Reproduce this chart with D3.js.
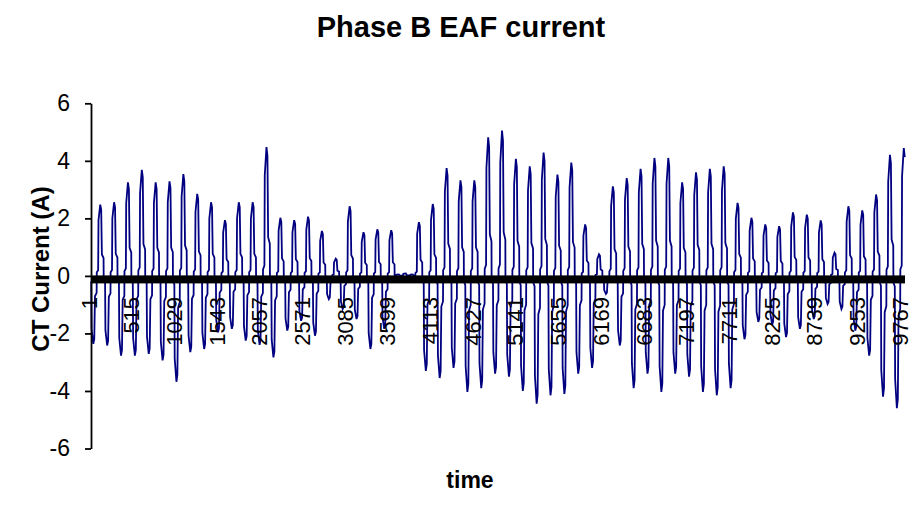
<!DOCTYPE html>
<html>
<head>
<meta charset="utf-8">
<script src="https://cdn.jsdelivr.net/npm/d3@7"></script>
<style>
  body { margin: 0; background: #fff; }
  text { font-family: "Liberation Sans", Arial, sans-serif; fill: #000; }
  .axis path, .axis line { stroke: #000; stroke-width: 1.8; }
</style>
</head>
<body>
<script>
// number of samples on the category axis
var nSamples = 9800;
var labelStep = 514;

// positive peak of each cycle (A)
var posPeaks = [2.48, 2.56, 3.25, 3.69, 3.25, 3.29, 3.54, 2.85, 2.56, 1.94,
                2.56, 2.56, 4.48, 2.02, 1.94, 2.06, 1.56, 0.60, 2.42, 1.52,
                1.62, 1.59, 0.09, 1.87, 2.50, 3.75, 3.32, 3.32, 4.82, 5.05,
                4.07, 3.81, 4.29, 3.52, 3.94, 1.79, 0.75, 3.11, 3.40, 3.72,
                4.10, 4.10, 3.25, 3.60, 3.72, 3.81, 2.54, 2.02, 1.79, 1.73,
                2.21, 2.13, 1.93, 0.81, 2.42, 2.28, 2.83, 4.21, 4.44];

// trough before each positive peak (A)
var negPeaks = [-2.36, -2.42, -2.77, -2.77, -2.71, -2.94, -3.68, -2.65, -2.54, -1.96,
                -1.84, -2.25, -2.40, -2.83, -1.90, -1.56, -2.08, -0.81, -1.15, -1.50,
                -2.54, -1.84, 0.05, 0.05, -3.30, -3.55, -3.20, -4.03, -3.90, -3.40,
                -3.50, -4.00, -4.44, -4.15, -4.10, -3.40, -3.20, -0.63, -2.42, -3.90,
                -3.40, -4.03, -3.40, -3.50, -4.03, -4.15, -3.90, -2.20, -1.60, -1.70,
                -2.13, -1.84, -1.50, -0.98, -1.15, -1.90, -2.77, -4.20, -4.60];

// shape of one half cycle (fraction of half cycle, fraction of its peak)
var shapePhase = [0.00, 0.20, 0.25, 0.50, 0.64, 0.74, 0.98];
var shapeLevel = [0.05, 0.08, 0.78, 1.00, 0.93, 0.30, 0.25];

var halfLen = 83.4,      // samples per half cycle
    firstStart = -13.5;  // sample where the first half cycle begins

var yTicks = [-6, -4, -2, 0, 2, 4, 6];

// build the polyline vertices
var points = [];
for (var k = 0; k < posPeaks.length * 2; k++) {
  var amp = (k % 2 == 0) ? negPeaks[k / 2] : posPeaks[(k - 1) / 2];
  var start = firstStart + k * halfLen;
  for (var j = 0; j < shapePhase.length; j++) {
    var idx = start + shapePhase[j] * halfLen;
    if (idx >= 1 && idx <= nSamples) points.push([idx, amp * shapeLevel[j]]);
  }
}

var svg = d3.select("body").append("svg")
    .attr("width", 910)
    .attr("height", 508);

var x = d3.scaleLinear().domain([0.5, nSamples + 0.5]).range([91, 905]),
    y = d3.scaleLinear().domain([-6, 6]).range([448.5, 103.3]);

var line = d3.line()
    .x(function(d) { return x(d[0]); })
    .y(function(d) { return y(d[1]); });

// series
svg.append("path")
    .datum(points)
    .attr("fill", "none")
    .attr("stroke", "#000080")
    .attr("stroke-width", 1.8)
    .attr("d", line);

// category axis at zero, the dense tick marks make a thick band
svg.append("rect")
    .attr("x", x.range()[0])
    .attr("y", y(0) - 0.5)
    .attr("width", x.range()[1] - x.range()[0])
    .attr("height", 8)
    .attr("fill", "#000");

// y axis
svg.append("g")
    .attr("class", "axis")
    .attr("transform", "translate(" + x.range()[0] + ",0)")
    .call(d3.axisLeft(y).tickValues(yTicks).tickSize(6).tickSizeOuter(0).tickPadding(15)
          .tickFormat(function(d) { return String(d); }))
    .selectAll("text")
    .style("font-size", "23px");

// x labels, rotated
var xLabels = d3.range(1, nSamples + 1, labelStep);
svg.append("g")
    .selectAll("text")
    .data(xLabels)
    .enter().append("text")
    .attr("transform", function(d) { return "translate(" + x(d) + "," + (y(0) + 21) + ") rotate(-90)"; })
    .attr("text-anchor", "end")
    .attr("dy", "0.25em")
    .style("font-size", "22px")
    .text(function(d) { return d; });

// titles
svg.append("text")
    .attr("x", 461)
    .attr("y", 37)
    .attr("text-anchor", "middle")
    .style("font-size", "29px")
    .style("font-weight", "bold")
    .text("Phase B EAF current");

svg.append("text")
    .attr("transform", "translate(41,269) rotate(-90)")
    .attr("text-anchor", "middle")
    .attr("dy", "0.35em")
    .style("font-size", "24px")
    .style("font-weight", "bold")
    .text("CT Current (A)");

svg.append("text")
    .attr("x", 470)
    .attr("y", 488)
    .attr("text-anchor", "middle")
    .style("font-size", "23px")
    .style("font-weight", "bold")
    .text("time");
</script>
</body>
</html>
